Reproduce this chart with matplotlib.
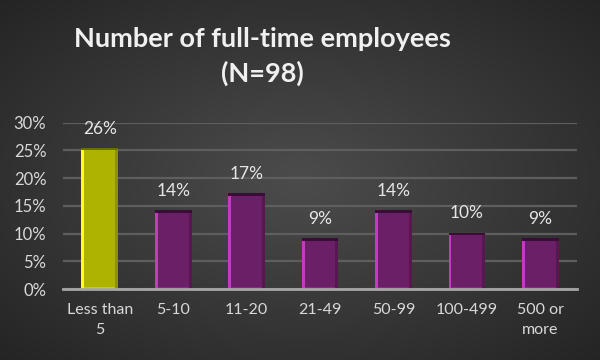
import numpy as np
import matplotlib
matplotlib.use("Agg")
import matplotlib.pyplot as plt
from matplotlib.patches import Rectangle

categories = ["Less than\n5", "5-10", "11-20", "21-49", "50-99", "100-499", "500 or\nmore"]
values = [25.5, 14.3, 17.3, 9.2, 14.3, 10.2, 9.2]   # percent of N=98
yticks = [0, 5, 10, 15, 20, 25, 30]
title = "Number of full-time employees\n(N=98)"

main_cols = ["#adb300"] + ["#6a1f66"] * 6
light_cols = ["#ffff1a"] + ["#c23cc0"] * 6
dark_cols = ["#6c6e00"] + ["#3a0c37"] * 6
right_cols = ["#8e9200"] + ["#56184f"] * 6

fig = plt.figure(figsize=(6, 3.6), dpi=100)

# radial gradient background
bg = fig.add_axes([0, 0, 1, 1], zorder=-10)
xx, yy = np.meshgrid(np.linspace(0, 1, 600), np.linspace(0, 1, 360))
r = np.sqrt(((xx - 0.5) / 0.75) ** 2 + ((yy - 0.5) / 0.75) ** 2)
r = np.clip(r, 0, 1)
c0, c1 = 0x4c / 255, 0x22 / 255
img = c0 + (c1 - c0) * r
bg.imshow(np.dstack([img, img, img]), extent=[0, 1, 0, 1], aspect="auto", origin="lower")
bg.axis("off")

ax = fig.add_axes([0.105, 0.197, 0.8567, 0.462])
ax.set_facecolor("none")
x = np.arange(len(categories))
bw = 0.5
bars = ax.bar(x, values, width=bw, color=main_cols, zorder=3, linewidth=0)

# bevel decoration derived from bars
sx = 0.04   # stripe width in category units
sy = 0.5    # stripe height in percent units
for b, lc, dc, rc in zip(bars, light_cols, dark_cols, right_cols):
    bx, by, w, h = b.get_x(), b.get_y(), b.get_width(), b.get_height()
    ax.add_patch(Rectangle((bx, by), sx, h, color=lc, zorder=4, lw=0))
    ax.add_patch(Rectangle((bx + w - sx, by), sx, h, color=rc, zorder=4, lw=0))
    ax.add_patch(Rectangle((bx, by + h - sy), w, sy, color=dc, zorder=5, lw=0))
    ax.add_patch(Rectangle((bx + sx, by), w - 2 * sx, sy * 0.6, color=lc, alpha=0.35, zorder=4, lw=0))

for xi, v in zip(x, values):
    ax.annotate(f"{v:.0f}%", (xi, v), xytext=(0, 8), textcoords="offset points",
                ha="center", va="bottom", color="#e6e6e6", fontsize=12.5, family="Lato")

ax.set_xlim(-0.5, len(categories) - 0.5)
ax.set_ylim(0, 30)
ax.set_yticks(yticks)
ax.set_yticklabels([f"{t}%" for t in yticks])
ax.set_xticks(x)
ax.set_xticklabels(categories, linespacing=1.55)
ax.tick_params(axis="both", length=0, colors="#d9d9d9", labelsize=12)
ax.tick_params(axis="x", pad=10, labelsize=11.5)
ax.tick_params(axis="y", pad=12)
for lab in ax.get_xticklabels() + ax.get_yticklabels():
    lab.set_family("Lato")
ax.yaxis.grid(True, color="#5e5e5e", linewidth=1.6, zorder=0)
ax.set_axisbelow(True)
for s in ["top", "right", "left"]:
    ax.spines[s].set_visible(False)
ax.spines["bottom"].set_color("#a6a6a6")
ax.spines["bottom"].set_linewidth(2)
ax.spines["bottom"].set_zorder(6)

fig.text(0.437, 0.842, title, ha="center", va="center", color="#f0f0f0",
         fontsize=19.5, fontweight="bold", family="Lato", linespacing=1.45)

fig.savefig("out.png", dpi=100)
